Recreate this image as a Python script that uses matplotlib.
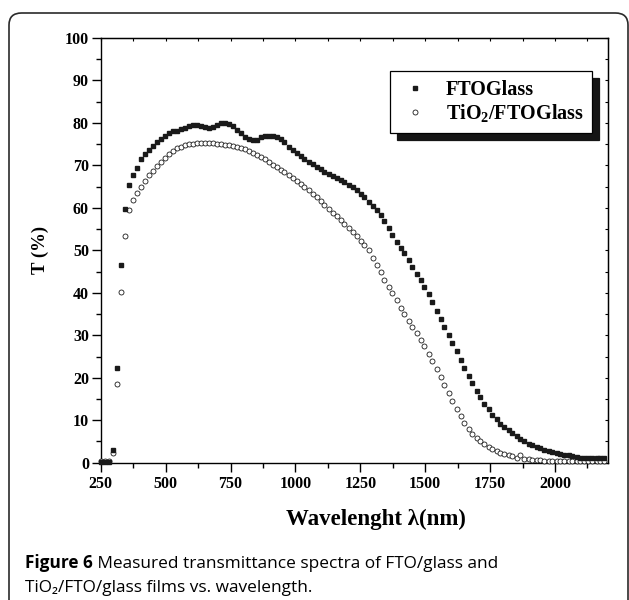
import numpy as np
import matplotlib.pyplot as plt
from matplotlib.patches import FancyBboxPatch
from matplotlib.ticker import MultipleLocator, NullFormatter

plt.rcParams['font.family'] = 'Liberation Serif'
plt.rcParams['font.weight'] = 'bold'
plt.rcParams['axes.labelweight'] = 'bold'
plt.rcParams['mathtext.fontset'] = 'custom'
plt.rcParams['mathtext.rm'] = 'Liberation Serif:bold'
plt.rcParams['mathtext.it'] = 'Liberation Serif:bold'
plt.rcParams['mathtext.bf'] = 'Liberation Serif:bold'

# wavelength grid of the recorded points (nm)
wavelength = [250, 265, 281, 296, 312, 327, 342, 358, 373, 389,
              404, 419, 435, 450, 466, 481, 496, 512, 527, 543,
              558, 573, 589, 604, 620, 635, 650, 666, 681, 697,
              712, 727, 743, 758, 774, 789, 804, 820, 835, 851,
              866, 881, 897, 912, 928, 943, 958, 974, 989, 1005,
              1020, 1035, 1051, 1066, 1082, 1097, 1112, 1128, 1143, 1159,
              1174, 1189, 1205, 1220, 1236, 1251, 1266, 1282, 1297, 1313,
              1328, 1343, 1359, 1374, 1390, 1405, 1420, 1436, 1451, 1467,
              1482, 1497, 1513, 1528, 1544, 1559, 1574, 1590, 1605, 1621,
              1636, 1651, 1667, 1682, 1698, 1713, 1728, 1744, 1759, 1775,
              1790, 1805, 1821, 1836, 1852, 1867, 1882, 1898, 1913, 1929,
              1944, 1959, 1975, 1990, 2006, 2021, 2036, 2052, 2067, 2083,
              2098, 2113, 2129, 2144, 2160, 2175, 2190]

# FTO/glass transmittance (%)
t_fto = [0.2, 0.2, 0.2, 2.9, 22.4, 46.5, 59.8, 65.5, 67.8, 69.5,
         71.4, 72.6, 73.6, 74.6, 75.5, 76.3, 76.9, 77.6, 78.0, 78.2,
         78.5, 78.8, 79.3, 79.6, 79.6, 79.3, 79.0, 78.8, 79.0, 79.5,
         79.9, 80.1, 79.7, 79.2, 78.4, 77.6, 76.8, 76.3, 76.0, 76.1,
         76.6, 76.9, 77.0, 76.9, 76.6, 76.2, 75.4, 74.4, 73.6, 72.9,
         72.1, 71.4, 70.9, 70.3, 69.6, 69.1, 68.5, 68.0, 67.6, 67.1,
         66.6, 66.0, 65.4, 64.8, 64.1, 63.3, 62.5, 61.5, 60.5, 59.4,
         58.3, 57.0, 55.3, 53.7, 52.0, 50.5, 49.3, 47.8, 46.1, 44.5,
         43.0, 41.4, 39.7, 37.9, 35.8, 33.9, 32.0, 30.1, 28.2, 26.2,
         24.2, 22.3, 20.4, 18.7, 17.0, 15.5, 13.8, 12.6, 11.2, 10.2,
         9.2, 8.4, 7.6, 6.9, 6.2, 5.6, 5.0, 4.4, 4.1, 3.7,
         3.4, 3.0, 2.8, 2.5, 2.3, 2.1, 1.9, 1.7, 1.5, 1.3,
         1.1, 1.0, 1.0, 1.1, 1.0, 1.1, 1.0]

# TiO2/FTO/glass transmittance (%)
t_tio2 = [0.3, 0.3, 0.3, 2.3, 18.5, 40.1, 53.4, 59.4, 61.8, 63.5,
          64.9, 66.3, 67.7, 68.8, 69.9, 70.9, 71.8, 72.6, 73.3, 74.0,
          74.4, 74.8, 75.0, 75.1, 75.2, 75.3, 75.3, 75.3, 75.2, 75.1,
          75.0, 74.9, 74.8, 74.6, 74.4, 74.1, 73.8, 73.4, 73.0, 72.5,
          72.0, 71.4, 70.8, 70.2, 69.6, 69.0, 68.4, 67.7, 67.0, 66.3,
          65.6, 64.9, 64.1, 63.3, 62.5, 61.6, 60.7, 59.8, 58.9, 58.0,
          57.1, 56.2, 55.3, 54.3, 53.3, 52.3, 51.2, 50.0, 48.3, 46.6,
          44.8, 43.0, 41.4, 39.9, 38.2, 36.5, 34.9, 33.4, 32.0, 30.5,
          29.0, 27.4, 25.7, 24.0, 22.0, 20.2, 18.4, 16.4, 14.6, 12.7,
          11.0, 9.4, 8.0, 6.8, 5.8, 5.0, 4.3, 3.7, 3.2, 2.8,
          2.4, 2.0, 1.7, 1.5, 1.2, 1.9, 0.9, 0.8, 0.7, 0.6,
          0.6, 0.5, 0.5, 0.4, 0.4, 0.3, 0.3, 0.3, 0.3, 0.3,
          0.3, 0.3, 0.3, 0.3, 0.3, 0.3, 0.3]

fig = plt.figure(figsize=(6.29, 6.0), dpi=100)

# rounded frame round the whole figure
frame = FancyBboxPatch((9 / 629, -0.05), 619 / 629, 1.05 - 13 / 600,
                       boxstyle='round,pad=0,rounding_size=0.02',
                       transform=fig.transFigure, fill=False,
                       edgecolor='#2a2a2a', linewidth=1.2)
fig.add_artist(frame)

ax = fig.add_axes([100.7 / 629, 1 - 462.7 / 600, 507 / 629, 424.7 / 600])

ax.plot(wavelength, t_tio2, 'o', ms=3.6, mfc='white', mec='#1a1a1a',
        mew=0.6, clip_on=False, label=r'TiO$_2$/FTOGlass', zorder=3)
ax.plot(wavelength, t_fto, 's', ms=3.2, color='#1a1a1a', mec='#1a1a1a',
        clip_on=False, label='FTOGlass', zorder=4)

ax.set_xlim(250, 2203)
ax.set_ylim(0, 100)
ax.xaxis.set_major_locator(MultipleLocator(250))
ax.xaxis.set_minor_locator(MultipleLocator(125))
ax.yaxis.set_major_locator(MultipleLocator(10))
ax.yaxis.set_minor_locator(MultipleLocator(5))
ax.tick_params(which='major', direction='out', length=6.5, width=1,
               labelsize=11.5, pad=2)
ax.tick_params(axis='x', which='major', pad=3)
ax.tick_params(which='minor', direction='out', length=3.4, width=1)
for s in ax.spines.values():
    s.set_linewidth(1.0)

# small inward ticks on top and right
top = ax.secondary_xaxis('top')
top.xaxis.set_major_locator(MultipleLocator(125))
top.xaxis.set_major_formatter(NullFormatter())
top.tick_params(direction='in', length=2.5, width=0.8)
right = ax.secondary_yaxis('right')
right.yaxis.set_major_locator(MultipleLocator(5))
right.yaxis.set_major_formatter(NullFormatter())
right.tick_params(direction='in', length=2.5, width=0.8)

ax.set_xlabel('Wavelenght \u03bb(nm)', fontsize=16.5, fontweight='bold')
ax.xaxis.set_label_coords(0.543, -0.108)
ax.set_ylabel('T (%)', fontsize=13.5, fontweight='bold', labelpad=11)

handles, labels = ax.get_legend_handles_labels()
leg = ax.legend(handles[::-1], labels[::-1], loc='upper right',
                bbox_to_anchor=(0.970, 0.922), borderaxespad=0,
                fancybox=False, framealpha=1, edgecolor='black',
                shadow={'ox': 5, 'oy': -5, 'facecolor': '#151515',
                        'edgecolor': '#151515', 'alpha': 1},
                prop={'family': 'Liberation Serif', 'weight': 'bold',
                      'size': 14.5},
                numpoints=1, handlelength=1.6, handletextpad=0.7,
                labelspacing=0.1, borderpad=0.45)
leg.get_frame().set_linewidth(0.9)

cap = ['Open Sans', 'Noto Sans', 'DejaVu Sans']
t1 = fig.text(25 / 629, 1 - 572 / 600, 'Figure 6', family=cap,
              weight='bold', fontsize=12.4, va='bottom')
ax.annotate(' Measured transmittance spectra of FTO/glass and',
            xy=(1, 0), xycoords=t1, va='bottom', ha='left',
            family=cap, weight='normal', fontsize=12.4)
fig.text(25 / 629, 1 - 596 / 600, 'TiO\u2082/FTO/glass films vs. wavelength.',
         family=cap, weight='normal', fontsize=12.4, va='bottom')

fig.savefig('out.png', dpi=100)
